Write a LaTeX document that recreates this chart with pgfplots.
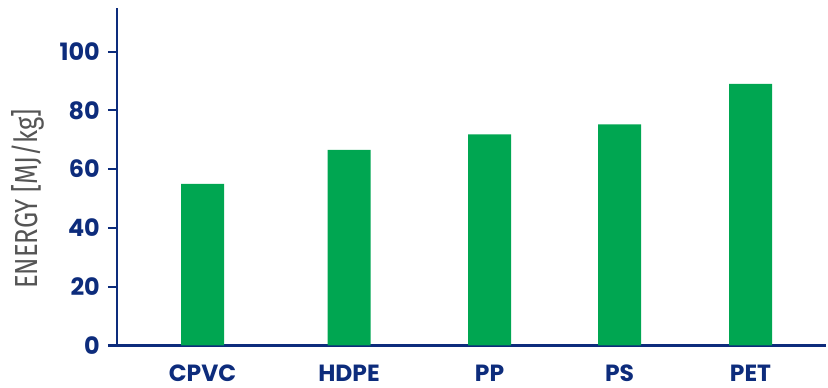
\documentclass[border=0pt]{standalone}
\usepackage{pgfplots}
\pgfplotsset{compat=1.18}
\usepackage{fontspec}
\setmainfont{Poppins}
\newfontfamily\labelfont[FakeStretch=0.8]{Fira Sans}
\definecolor{navy}{HTML}{0D2C7C}
\definecolor{barGreen}{HTML}{00A651}
\definecolor{labelGray}{HTML}{555555}
\begin{document}
\begin{tikzpicture}
\useasboundingbox (0,0) rectangle (828bp,388bp);
\begin{axis}[
  at={(117bp,42.5bp)}, anchor=origin,
  scale only axis,
  width=709bp, height=337.5bp,
  xmin=117, xmax=826,
  ymin=0, ymax=114.8,
  axis x line=bottom, axis y line=left,
  axis line style={navy, line width=2bp, -},
  tick align=outside,
  major tick length=9bp,
  ytick={0,20,40,60,80,100},
  ytick style={navy, line width=2bp},
  xtick style={draw=none},
  xtick={202.5,349,489.5,619.5,750.5},
  xticklabels={CPVC,HDPE,PP,PS,PET},
  /pgf/number format/assume math mode=true,
  yticklabel style={font=\fontsize{24}{24}\selectfont\bfseries, text=navy, inner sep=0pt, xshift=-8bp},
  xticklabel style={font=\fontsize{23.5}{23.5}\selectfont\bfseries, text=navy, inner sep=0pt, anchor=north, yshift=-10bp},
  ylabel={ENERGY [MJ/kg]},
  ylabel style={font=\labelfont\fontsize{32}{32}\selectfont, text=labelGray,
    at={(axis description cs:-0.126,0.434)}, rotate=0, anchor=center},
  clip=false,
]
\addplot[ybar, bar width=43, fill=barGreen, draw=none] coordinates {
  (202.5,55.0) (349,66.5) (489.5,71.8) (619.5,75.2) (750.5,89.0)
};
\end{axis}
\end{tikzpicture}
\end{document}
